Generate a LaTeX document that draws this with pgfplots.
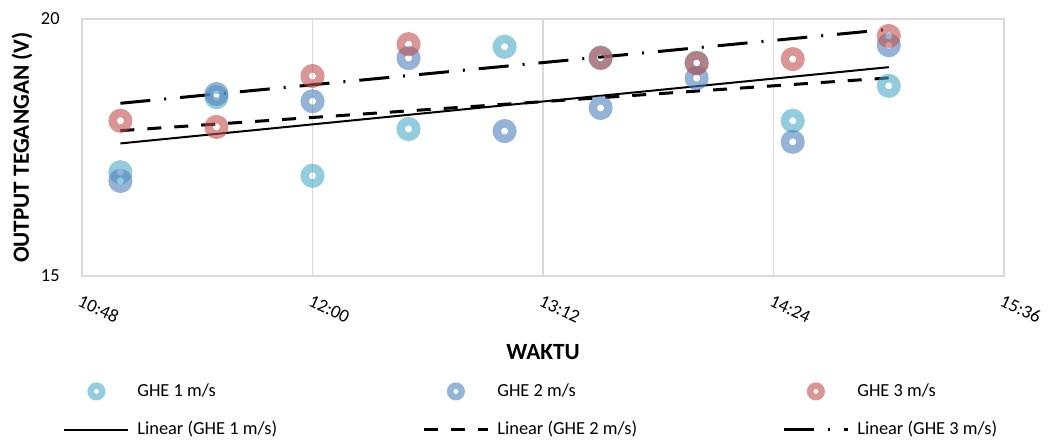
\documentclass[border=0pt]{standalone}
\usepackage{fontspec}
\setmainfont{Carlito}
\usepackage{pgfplots}
\usepackage{pgfplotstable}
\pgfplotsset{compat=1.18}

\definecolor{ghea}{HTML}{4BACC6}
\definecolor{gheb}{HTML}{4F81BD}
\definecolor{ghec}{HTML}{C0504D}
\definecolor{gridgray}{HTML}{D9D9D9}

\pgfplotsset{
  trendleg/.style={legend image code/.code={\draw[##1] (0pt,0pt) -- (32pt,0pt);}},
  ring/.style={only marks, restrict y to domain=15:20, mark=o, mark size=3.875pt,
    mark options={line width=4.25pt, draw=#1, draw opacity=0.6},
    legend image code/.code={\path (0pt,0pt) (32pt,0pt);
      \draw[draw=#1, draw opacity=0.6, line width=3.25pt] (16pt,0pt) circle (2.875pt);}},
}

% time in minutes after midnight, output voltage in V
\pgfplotstableread{
t   g1    g2    g3
660 17.02 16.85 18.02
690 18.48 18.54 17.90
720 16.95 18.40 18.89
750 17.86 19.24 19.51
780 19.46 17.82 20.13
810 19.25 18.27 19.24
840 19.15 18.85 19.14
870 18.02 17.61 19.22
900 18.70 19.49 19.67
}\datatable

\begin{document}
\begin{tikzpicture}
\begin{axis}[
  scale only axis, width=461pt, height=128.5pt,
  at={(41pt,81.5pt)}, anchor=south west,
  xmin=648, xmax=936, ymin=15, ymax=20,
  xtick={648,720,792,864,936},
  xticklabels={10:48,12:00,13:12,14:24,15:36},
  ytick={15,20},
  xmajorgrids,
  grid style={draw=gridgray, line width=0.75pt},
  axis line style={draw=gridgray, line width=0.75pt},
  major tick length=0pt,
  tick label style={font=\fontsize{9.2}{11}\selectfont},
  /pgf/number format/assume math mode=true,
  yticklabel style={anchor=east, inner sep=0pt, xshift=-11pt},
  xticklabel style={inner sep=0pt, anchor=north west, yshift=-9pt, rotate=-25},
  xlabel={WAKTU}, ylabel={OUTPUT TEGANGAN (V)},
  label style={font=\bfseries\fontsize{11.6}{14}\selectfont},
  xlabel style={at={([yshift=-38pt]axis description cs:0.5,0)}, anchor=center},
  ylabel style={at={([xshift=-30pt]axis description cs:0,0.5)}, anchor=center},
  legend columns=3,
  legend cell align=left,
  legend style={at={([xshift=-9.5pt,yshift=-53pt]axis description cs:0,0)},
    anchor=north west, draw=none, fill=none, inner sep=0pt,
    font=\fontsize{9.2}{11}\selectfont, row sep=10.5pt,
    nodes={inner sep=0pt},
    /tikz/every odd column/.append style={column sep=4pt}},
]
\addplot[ring=ghea] table[x=t, y=g1] {\datatable};
\addlegendentry{\makebox[142.5pt][l]{GHE 1 m/s}}
\addplot[ring=gheb] table[x=t, y=g2] {\datatable};
\addlegendentry{\makebox[142.5pt][l]{GHE 2 m/s}}
\addplot[ring=ghec] table[x=t, y=g3] {\datatable};
\addlegendentry{\makebox[142.5pt][l]{GHE 3 m/s}}
% linear trend lines
\addplot[black, line width=1pt, no marks, trendleg]
  table[x=t, y={create col/linear regression={y=g1}}] {\datatable};
\addlegendentry{\makebox[142.5pt][l]{Linear (GHE 1 m/s)}}
\addplot[black, line width=1.5pt, no marks, dash pattern=on 7pt off 6.5pt, trendleg]
  table[x=t, y={create col/linear regression={y=g2}}] {\datatable};
\addlegendentry{\makebox[142.5pt][l]{Linear (GHE 2 m/s)}}
\addplot[black, line width=1.5pt, no marks, dash pattern=on 15pt off 7pt on 1pt off 7pt, trendleg]
  table[x=t, y={create col/linear regression={y=g3}}] {\datatable};
\addlegendentry{\makebox[142.5pt][l]{Linear (GHE 3 m/s)}}
\end{axis}
\pgfresetboundingbox
\path (0pt,0pt) rectangle (526pt,219.5pt);
\end{tikzpicture}
\end{document}
